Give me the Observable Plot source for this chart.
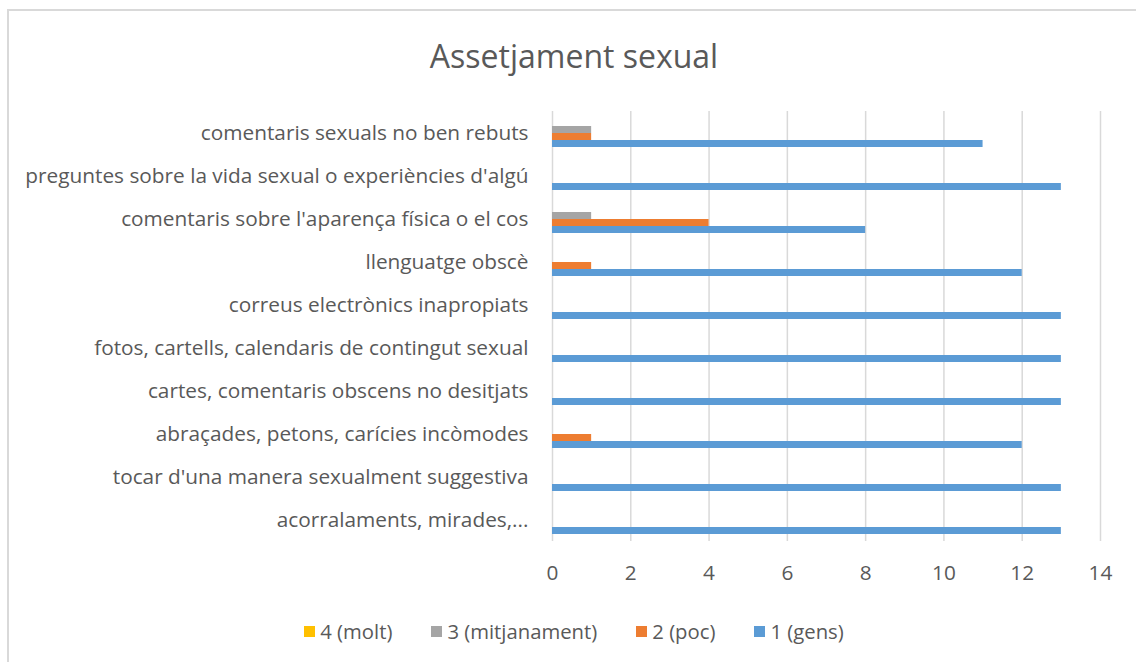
<!DOCTYPE html>
<html>
<head>
<meta charset="utf-8">
<script src="https://cdn.jsdelivr.net/npm/d3@7"></script>
<script src="https://cdn.jsdelivr.net/npm/@observablehq/plot@0.6"></script>
<style>
  html, body { margin: 0; padding: 0; background: #fff; overflow: hidden; }
  #wrap { position: relative; width: 1136px; height: 662px; font-family: "Open Sans", sans-serif; color: #595959; }
  #frame { position: absolute; left: 7px; top: 9px; width: 1200px; height: 700px; border: 2px solid #d9d9d9; box-sizing: border-box; }
  #title { position: absolute; left: 7px; width: 1134px; top: 34px; text-align: center; font-size: 32px; line-height: 44px; color: #595959; }
  #chart { position: absolute; left: 0; top: 0; }
  #legend { position: absolute; left: 7px; width: 1134px; top: 617px; display: flex; justify-content: center; gap: 39px; font-size: 20.3px; line-height: 28px; }
  .item { display: flex; align-items: center; gap: 5px; }
  .sw { width: 11px; height: 11px; display: inline-block; }
</style>
</head>
<body>
<div id="wrap">
  <div id="frame"></div>
  <div id="chart"></div>
  <div id="title">Assetjament sexual</div>
  <div id="legend"></div>
</div>
<script>
const categories = [
  "comentaris sexuals no ben rebuts",
  "preguntes sobre la vida sexual o experiències d'algú",
  "comentaris sobre l'aparença física o el cos",
  "llenguatge obscè",
  "correus electrònics inapropiats",
  "fotos, cartells, calendaris de contingut sexual",
  "cartes, comentaris obscens no desitjats",
  "abraçades, petons, carícies incòmodes",
  "tocar d'una manera sexualment suggestiva",
  "acorralaments, mirades,..."
];
const series = ["4 (molt)", "3 (mitjanament)", "2 (poc)", "1 (gens)"];
const colors = ["#ffc000", "#a5a5a5", "#ed7d31", "#5b9bd5"];
const molt         = [0, 0, 0, 0, 0, 0, 0, 0, 0, 0];
const mitjanament  = [1, 0, 1, 0, 0, 0, 0, 0, 0, 0];
const poc          = [1, 0, 4, 1, 0, 0, 0, 1, 0, 0];
const gens         = [11, 13, 8, 12, 13, 13, 13, 12, 13, 13];
const xTicks = [0, 2, 4, 6, 8, 10, 12, 14];

const valuesBySeries = [molt, mitjanament, poc, gens];
const rows = [];
categories.forEach((c, i) => {
  series.forEach((s, j) => rows.push({category: c, series: s, value: valuesBySeries[j][i]}));
});

const chart = Plot.plot({
  width: 1136,
  height: 662,
  marginTop: 108,
  marginBottom: 118,
  marginLeft: 552,
  marginRight: 36,
  style: {fontFamily: "Open Sans, sans-serif", fontSize: "20.8px", color: "#595959", background: "transparent"},
  x: {domain: [0, 14], ticks: xTicks, tickSize: 0, tickPadding: 24, label: null},
  y: {domain: series, paddingInner: 0, paddingOuter: 0.907, axis: null},
  fy: {domain: categories, padding: 0, axis: "left", tickSize: 0, tickPadding: 24, label: null},
  color: {domain: series, range: colors},
  marks: [
    Plot.ruleX(xTicks, {stroke: "#d9d9d9", strokeWidth: 1.5, strokeOpacity: 1}),
    Plot.barX(rows, {x: "value", y: "series", fy: "category", fill: "series"})
  ]
});
document.getElementById("chart").appendChild(chart);

const legend = document.getElementById("legend");
series.forEach((s, j) => {
  const it = document.createElement("div");
  it.className = "item";
  const sw = document.createElement("span");
  sw.className = "sw";
  sw.style.background = colors[j];
  const t = document.createElement("span");
  t.textContent = s;
  it.appendChild(sw); it.appendChild(t);
  legend.appendChild(it);
});
</script>
</body>
</html>
